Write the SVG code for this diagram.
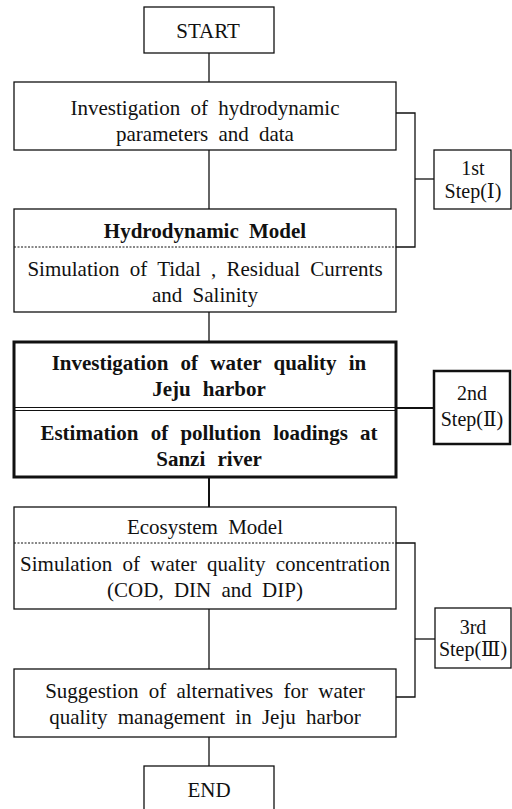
<svg xmlns="http://www.w3.org/2000/svg" width="512" height="809" viewBox="0 0 512 809">
<style>
  .bx{fill:#fff;stroke:#111;stroke-width:1.3}
  .thick{fill:#fff;stroke:#111;stroke-width:3}
  .mid{fill:#fff;stroke:#111;stroke-width:2.5}
  .ln{fill:none;stroke:#111;stroke-width:1.3}
  .dot{fill:none;stroke:#111;stroke-width:1;stroke-dasharray:2 1.5}
  text{font-family:'Liberation Serif','DejaVu Serif',serif;font-size:21px;fill:#111;text-anchor:middle;word-spacing:5px}
  .b{font-weight:bold}
  .wb{word-spacing:7px}
  .s{font-size:20px;word-spacing:0}
</style>
<rect width="512" height="809" fill="#fff"/>
<g id="connectors">
  <line class="ln" x1="209" y1="53" x2="209" y2="82"/>
  <line class="ln" x1="209" y1="150" x2="209" y2="209"/>
  <line class="ln" x1="209" y1="312" x2="209" y2="342"/>
  <line class="ln" x1="209" y1="477" x2="209" y2="507" style="stroke-width:2"/>
  <line class="ln" x1="209" y1="609" x2="209" y2="669"/>
  <line class="ln" x1="209" y1="737" x2="209" y2="766"/>
  <polyline class="ln" points="396,113 415,113 415,247 396,247"/>
  <line class="ln" x1="415" y1="179" x2="434" y2="179"/>
  <line class="ln" x1="396" y1="408" x2="434" y2="408" style="stroke-width:2"/>
  <polyline class="ln" points="396,543 415,543 415,697 396,697"/>
  <line class="ln" x1="415" y1="639" x2="435" y2="639"/>
</g>
<g id="start">
  <rect class="bx" x="144" y="7" width="130" height="46"/>
  <text x="208" y="38">START</text>
</g>
<g id="investigation-hydro">
  <rect class="bx" x="14" y="82" width="382" height="68"/>
  <text x="205" y="115">Investigation of hydrodynamic</text>
  <text x="205" y="141">parameters and data</text>
</g>
<g id="hydro-model">
  <rect class="bx" x="14" y="209" width="382" height="103"/>
  <line class="dot" x1="14" y1="247" x2="396" y2="247"/>
  <text class="b" x="205" y="238">Hydrodynamic Model</text>
  <text x="205" y="276">Simulation of Tidal , Residual Currents</text>
  <text x="205" y="302">and Salinity</text>
</g>
<g id="step1">
  <rect class="bx" x="434" y="150" width="77" height="59"/>
  <text class="s" x="473" y="175">1st</text>
  <text class="s" x="473" y="198">Step(Ⅰ)</text>
</g>
<g id="water-quality">
  <rect class="thick" x="14" y="342" width="382" height="135"/>
  <line x1="14" y1="407.5" x2="396" y2="407.5" stroke="#111" stroke-width="1"/>
  <line x1="14" y1="410.5" x2="396" y2="410.5" stroke="#111" stroke-width="1"/>
  <text class="b wb" x="209" y="370">Investigation of water quality in</text>
  <text class="b wb" x="209" y="396">Jeju harbor</text>
  <text class="b wb" x="209" y="440">Estimation of pollution loadings at</text>
  <text class="b wb" x="209" y="466">Sanzi river</text>
</g>
<g id="step2">
  <rect class="mid" x="434" y="371" width="76" height="73"/>
  <text class="s" x="472" y="400">2nd</text>
  <text class="s" x="472" y="426">Step(Ⅱ)</text>
</g>
<g id="ecosystem-model">
  <rect class="bx" x="14" y="507" width="382" height="102"/>
  <line class="dot" x1="14" y1="543" x2="396" y2="543"/>
  <text x="205" y="534">Ecosystem Model</text>
  <text x="205" y="571">Simulation of water quality concentration</text>
  <text x="205" y="597">(COD, DIN and DIP)</text>
</g>
<g id="step3">
  <rect class="bx" x="435" y="608" width="76" height="60"/>
  <text class="s" x="473" y="634">3rd</text>
  <text class="s" x="473" y="656">Step(Ⅲ)</text>
</g>
<g id="suggestion">
  <rect class="bx" x="14" y="669" width="382" height="68"/>
  <text x="205" y="698">Suggestion of alternatives for water</text>
  <text x="205" y="724">quality management in Jeju harbor</text>
</g>
<g id="end">
  <rect class="bx" x="144" y="766" width="130" height="60"/>
  <text x="209" y="797">END</text>
</g>
</svg>
